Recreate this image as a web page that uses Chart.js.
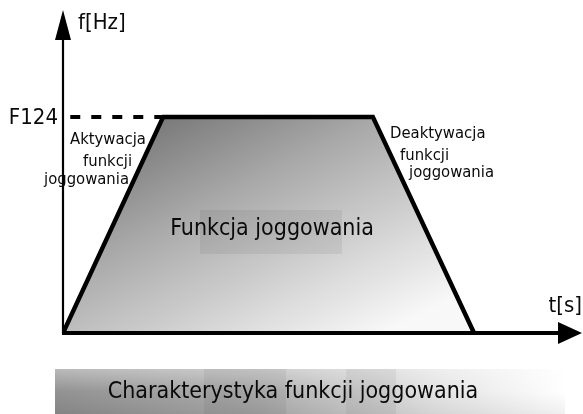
<!DOCTYPE html>
<html>
<head>
<meta charset="utf-8">
<script src="https://cdn.jsdelivr.net/npm/chart.js@4/dist/chart.umd.min.js"></script>
<style>
  html, body { margin: 0; padding: 0; background: #fff; }
  #wrap { width: 583px; height: 414px; position: relative; }
</style>
</head>
<body>
<div id="wrap"><canvas id="jogChart" width="583" height="414"></canvas></div>
<script>
// time axis [% of width], frequency axis [% of height]
const rampTime = [0, 19.3, 59.7, 79.2];
const rampFreq = [0, 66.9, 66.9, 0];
const refTime = [1.4, 19.0];
const refFreq = [66.9, 66.9];

const axisLabels = { y: "f[Hz]", x: "t[s]", ref: "F124" };
const startText = ["Aktywacja", "funkcji", "joggowania"];
const stopText = ["Deaktywacja", "funkcji", "joggowania"];
const centerText = "Funkcja joggowania";
const captionText = "Charakterystyka funkcji joggowania";

const FONT = '"DejaVu Sans Condensed", "DejaVu Sans", sans-serif';

const ctx = document.getElementById("jogChart").getContext("2d");

// axes with arrows, labels and the caption bar
const diagramPlugin = {
  id: "diagram",
  beforeDatasetsDraw(chart) {
    const { ctx } = chart;
    ctx.save();
    // caption bar
    const bx = 55, by = 369, bw = 510, bh = 45;
    const g = ctx.createLinearGradient(bx, 0, bx + bw, 0);
    g.addColorStop(0, "#8c8c8c");
    g.addColorStop(0.4, "#ababab");
    g.addColorStop(0.75, "#e2e2e2");
    g.addColorStop(1, "#ffffff");
    ctx.fillStyle = g;
    ctx.fillRect(bx, by, bw, bh);
    const gv = ctx.createLinearGradient(0, by, 0, by + bh);
    gv.addColorStop(0, "rgba(255,255,255,0.4)");
    gv.addColorStop(0.5, "rgba(255,255,255,0.05)");
    gv.addColorStop(1, "rgba(0,0,0,0.06)");
    ctx.fillStyle = gv;
    ctx.fillRect(bx, by, bw, bh);
    // darker vertical bands
    ctx.fillStyle = "rgba(0,0,0,0.05)";
    ctx.fillRect(204, by, 82, bh);
    ctx.fillRect(346, by, 50, bh);
    ctx.restore();
  },
  afterDatasetsDraw(chart) {
    // text box behind centre label
    const { ctx } = chart;
    ctx.save();
    ctx.fillStyle = "rgba(0,0,0,0.06)";
    ctx.fillRect(200, 210, 142, 44);
    ctx.restore();
  },
  afterDraw(chart) {
    const { ctx, chartArea, scales } = chart;
    const x0 = scales.x.getPixelForValue(0);
    const y0 = scales.y.getPixelForValue(0);
    const ys = scales.y;

    ctx.save();
    ctx.strokeStyle = "#000";
    ctx.fillStyle = "#000";
    ctx.lineWidth = 2.2;

    // y axis
    ctx.beginPath();
    ctx.moveTo(x0, y0 + 1);
    ctx.lineTo(x0, chartArea.top + 26);
    ctx.stroke();
    ctx.beginPath();
    ctx.moveTo(x0, chartArea.top);
    ctx.lineTo(x0 - 8, chartArea.top + 30);
    ctx.lineTo(x0 + 8, chartArea.top + 30);
    ctx.closePath();
    ctx.fill();

    // x axis
    ctx.lineWidth = 4;
    ctx.beginPath();
    ctx.moveTo(x0 - 1, y0);
    ctx.lineTo(chartArea.right - 20, y0);
    ctx.stroke();
    ctx.beginPath();
    ctx.moveTo(chartArea.right, y0);
    ctx.lineTo(chartArea.right - 24, y0 - 11);
    ctx.lineTo(chartArea.right - 24, y0 + 11);
    ctx.closePath();
    ctx.fill();

    // axis labels
    ctx.fillStyle = "#0a0a0a";
    ctx.textBaseline = "middle";
    ctx.font = "22px " + FONT;
    ctx.textAlign = "left";
    ctx.fillText(axisLabels.y, x0 + 15, 23);
    ctx.textAlign = "right";
    ctx.fillText(axisLabels.x, chartArea.right, y0 - 27);
    ctx.fillText(axisLabels.ref, x0 - 5, ys.getPixelForValue(refFreq[0]) + 1);

    // side notes
    ctx.font = "16.5px " + FONT;
    ctx.textAlign = "left";
    const startPos = [[70, 140], [83, 162], [44, 180]];
    startText.forEach((t, i) => ctx.fillText(t, startPos[i][0], startPos[i][1]));
    const stopPos = [[390, 134], [400, 156], [409, 173]];
    stopText.forEach((t, i) => ctx.fillText(t, stopPos[i][0], stopPos[i][1]));

    // centre label
    ctx.font = "23px " + FONT;
    ctx.textAlign = "center";
    ctx.fillText(centerText, 272, 229);

    // caption
    ctx.fillText(captionText, 293, 392);
    ctx.restore();
  }
};

function rampFill(context) {
  const area = context.chart.chartArea;
  if (!area) return "#aaa";
  const c = context.chart.ctx;
  const g = c.createLinearGradient(200, 100, 330, 360);
  g.addColorStop(0, "#7a7a7a");
  g.addColorStop(0.35, "#ababab");
  g.addColorStop(1, "#f8f8f8");
  return g;
}

new Chart(ctx, {
  type: "line",
  data: {
    datasets: [
      {
        label: "ramp",
        data: rampTime.map((t, i) => ({ x: t, y: rampFreq[i] })),
        borderColor: "#000",
        borderWidth: 4.5,
        backgroundColor: rampFill,
        fill: "origin",
        tension: 0,
        pointRadius: 0,
        borderJoinStyle: "miter"
      },
      {
        label: "ref",
        data: refTime.map((t, i) => ({ x: t, y: refFreq[i] })),
        borderColor: "#000",
        borderWidth: 4,
        borderDash: [10, 11],
        fill: false,
        pointRadius: 0
      }
    ]
  },
  options: {
    responsive: false,
    animation: false,
    layout: { padding: { left: 63, right: 1, top: 10, bottom: 81 } },
    plugins: { legend: { display: false }, tooltip: { enabled: false } },
    scales: {
      x: { type: "linear", min: 0, max: 100, display: false },
      y: { type: "linear", min: 0, max: 100, display: false }
    }
  },
  plugins: [diagramPlugin]
});
</script>
</body>
</html>
